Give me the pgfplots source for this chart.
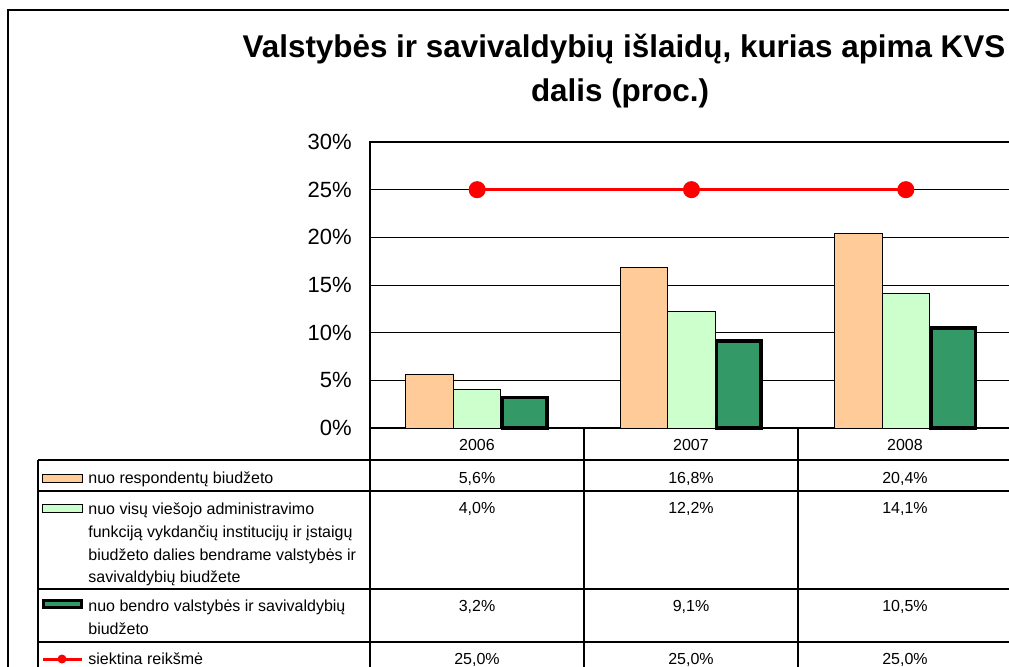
\documentclass[border=0pt]{standalone}
\usepackage{pgfplots}
\pgfplotsset{compat=1.18}
\usepackage{fontspec}
\setmainfont{Liberation Sans}

\definecolor{oranz}{HTML}{FFCC99}
\definecolor{sviesiai}{HTML}{CCFFCC}
\definecolor{tamsiai}{HTML}{339966}

\begin{document}
\begin{tikzpicture}
\path[use as bounding box] (0,0) rectangle (504.5pt,333pt);
\clip (0,0) rectangle (504.5pt,333pt);

\begin{axis}[
    at={(185pt,119pt)}, anchor=south west,
    scale only axis, width=321.5pt, height=143pt,
    xmin=-0.5, xmax=2.5, ymin=0, ymax=30,
    xtick=\empty,
    ytick={0,5,...,30},
    yticklabels={0\%,5\%,10\%,15\%,20\%,25\%,30\%},
    yticklabel style={font=\fontsize{11}{13}\selectfont, inner xsep=0pt, xshift=-9pt},
    major tick length=0pt,
    ymajorgrids,
    grid style={black, line width=0.5pt},
    axis line style={black, line width=0.6pt},
    clip=false,
]
\addplot[ybar, bar width=23.75pt, bar shift=-23.75pt, fill=oranz, draw=black, line width=0.5pt]
    coordinates {(0,5.6) (1,16.8) (2,20.4)};
\addplot[ybar, bar width=23.75pt, bar shift=0pt, fill=sviesiai, draw=black, line width=0.5pt]
    coordinates {(0,4.0) (1,12.2) (2,14.1)};
\addplot[ybar, bar width=22.25pt, bar shift=23.75pt, fill=tamsiai, draw=black, line width=1.75pt]
    coordinates {(0,3.2) (1,9.1) (2,10.5)};
\addplot[red, line width=1.5pt, mark=*, mark size=3.5pt, mark options={fill=red, draw=red}]
    coordinates {(0,25) (1,25) (2,25)};
\end{axis}

\begin{scope}[x=0.5pt, y=-0.5pt, shift={(0pt,333pt)}]
  % outer frame
  \draw[line width=0.8pt] (8,700) -- (8,10) -- (1100,10);
  % title
  \node[anchor=base, font=\fontsize{15.7}{18}\selectfont\bfseries] at (624,57)
    {Valstybės ir savivaldybių išlaidų, kurias apima KVS};
  \node[anchor=base, font=\fontsize{15.7}{18}\selectfont\bfseries] at (620,101)
    {dalis (proc.)};
  % data table grid
  \begin{scope}[line width=0.6pt]
    \draw (370,428) -- (370,700);
    \draw (584,428) -- (584,700);
    \draw (798,428) -- (798,700);
    \draw (38,460) -- (38,700);
    \foreach \yy in {460,491,589,642}
      \draw (38,\yy) -- (1100,\yy);
  \end{scope}
  \begin{scope}[every node/.style={font=\fontsize{8}{11}\selectfont, inner sep=0pt}]
    % years
    \node[anchor=base] at (477,450) {2006};
    \node[anchor=base] at (691,450) {2007};
    \node[anchor=base] at (905,450) {2008};
    % values
    \node[anchor=base] at (477,483) {5,6\%};
    \node[anchor=base] at (691,483) {16,8\%};
    \node[anchor=base] at (905,483) {20,4\%};
    \node[anchor=base] at (477,513) {4,0\%};
    \node[anchor=base] at (691,513) {12,2\%};
    \node[anchor=base] at (905,513) {14,1\%};
    \node[anchor=base] at (477,611) {3,2\%};
    \node[anchor=base] at (691,611) {9,1\%};
    \node[anchor=base] at (905,611) {10,5\%};
    \node[anchor=base] at (477,664) {25,0\%};
    \node[anchor=base] at (691,664) {25,0\%};
    \node[anchor=base] at (905,664) {25,0\%};
    % legend texts
    \node[anchor=base west] at (88,483) {nuo respondentų biudžeto};
    \node[anchor=base west] at (88,514) {nuo visų viešojo administravimo};
    \node[anchor=base west] at (88,537) {funkciją vykdančių institucijų ir įstaigų};
    \node[anchor=base west] at (88,560) {biudžeto dalies bendrame valstybės ir};
    \node[anchor=base west] at (88,582) {savivaldybių biudžete};
    \node[anchor=base west] at (88,611) {nuo bendro valstybės ir savivaldybių};
    \node[anchor=base west] at (88,634) {biudžeto};
    \node[anchor=base west] at (88,664) {siektina reikšmė};
  \end{scope}
  % legend keys
  \draw[fill=oranz, line width=0.5pt] (42,474) rectangle (82,482);
  \draw[fill=sviesiai, line width=0.5pt] (42,504) rectangle (82,512);
  \draw[fill=tamsiai, line width=1.5pt] (43,600) rectangle (81,607);
  \draw[red, line width=1.5pt] (43,659) -- (82,659);
  \fill[red] (62,659) circle (4.5);
\end{scope}
\end{tikzpicture}
\end{document}
